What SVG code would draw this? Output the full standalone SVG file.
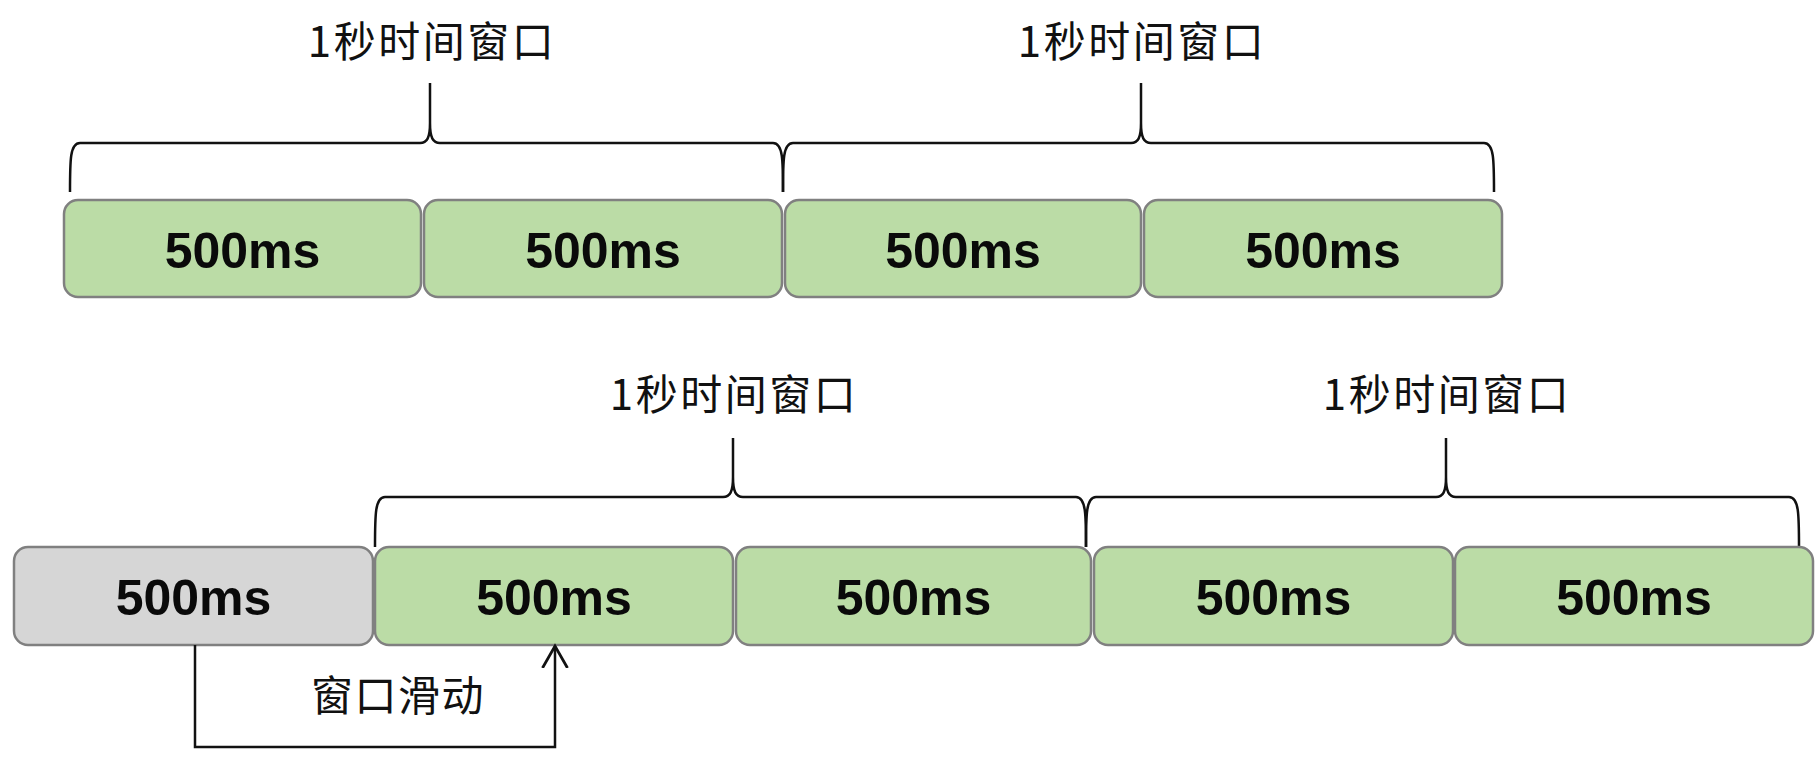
<svg xmlns="http://www.w3.org/2000/svg" width="1820" height="757" viewBox="0 0 1820 757">
<style>
.box{stroke:#808080;stroke-width:2.5}
.g{fill:#bbdca6}
.gr{fill:#d6d6d6}
.ms{font-family:"Liberation Sans",Arial,sans-serif;font-weight:bold;font-size:50px;fill:#0a0a0a;text-anchor:middle}
.lb{font-family:"Noto Sans CJK SC","Noto Sans",sans-serif;font-size:42px;fill:#111;text-anchor:middle}
.w{letter-spacing:2.5px}
.br{fill:none;stroke:#111;stroke-width:2.5}
</style>
<defs>
<marker id="arr" markerWidth="26" markerHeight="28" refX="22" refY="14" orient="auto" markerUnits="userSpaceOnUse">
<path d="M0,1.5 L22,14 L0,26.5" fill="none" stroke="#111" stroke-width="2.8"/>
</marker>
</defs>
<rect width="1820" height="757" fill="#fff"/>
<g id="labels">
<text class="lb w" x="432" y="57">1秒时间窗口</text>
<text class="lb w" x="1142" y="57">1秒时间窗口</text>
<text class="lb w" x="734" y="410">1秒时间窗口</text>
<text class="lb w" x="1447" y="410">1秒时间窗口</text>
</g>
<g id="braces">
<path class="br" d="M70,192 C70,160 70,143 80,143 L420,143 C427,143 430,138 430,123 L430,83 M430,123 C430,138 433,143 440,143 L773,143 C783,143 783,160 783,192"/>
<path class="br" d="M783,192 C783,160 783,143 793,143 L1131,143 C1138,143 1141,138 1141,123 L1141,83 M1141,123 C1141,138 1144,143 1151,143 L1484,143 C1494,143 1494,160 1494,192"/>
<path class="br" d="M375,547 C375,515 375,497 385,497 L723,497 C730,497 733,492 733,477 L733,438 M733,477 C733,492 736,497 743,497 L1076,497 C1086,497 1086,515 1086,547"/>
<path class="br" d="M1086,547 C1086,515 1086,497 1096,497 L1436,497 C1443,497 1446,492 1446,477 L1446,438 M1446,477 C1446,492 1449,497 1456,497 L1789,497 C1799,497 1799,515 1799,547"/>
</g>
<g id="top-row">
<g id="t1"><rect class="box g" x="64" y="200" width="357" height="97" rx="14"/><text class="ms" x="242.5" y="268">500ms</text></g>
<g id="t2"><rect class="box g" x="424" y="200" width="358" height="97" rx="14"/><text class="ms" x="603" y="268">500ms</text></g>
<g id="t3"><rect class="box g" x="785" y="200" width="356" height="97" rx="14"/><text class="ms" x="963" y="268">500ms</text></g>
<g id="t4"><rect class="box g" x="1144" y="200" width="358" height="97" rx="14"/><text class="ms" x="1323" y="268">500ms</text></g>
</g>
<g id="bottom-row">
<g id="b1"><rect class="box gr" x="14" y="547" width="359" height="98" rx="14"/><text class="ms" x="193.5" y="615">500ms</text></g>
<g id="b2"><rect class="box g" x="375" y="547" width="358" height="98" rx="14"/><text class="ms" x="554" y="615">500ms</text></g>
<g id="b3"><rect class="box g" x="736" y="547" width="355" height="98" rx="14"/><text class="ms" x="913.5" y="615">500ms</text></g>
<g id="b4"><rect class="box g" x="1094" y="547" width="359" height="98" rx="14"/><text class="ms" x="1273.5" y="615">500ms</text></g>
<g id="b5"><rect class="box g" x="1455" y="547" width="358" height="98" rx="14"/><text class="ms" x="1634" y="615">500ms</text></g>
</g>
<g id="connectors">
<path class="br" d="M195,645 L195,747 L555,747 L555,646" marker-end="url(#arr)"/>
<text class="lb" x="398" y="711" style="letter-spacing:1.5px">窗口滑动</text>
</g>
</svg>
